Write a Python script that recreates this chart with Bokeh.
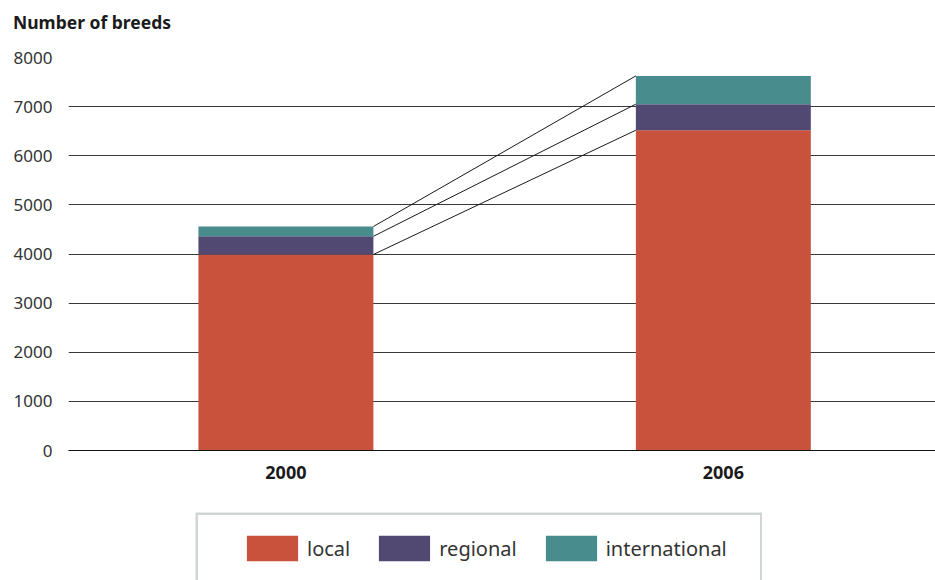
from bokeh.plotting import figure
from bokeh.models import Range1d, FixedTicker, Legend, LegendItem, ColumnDataSource, Spacer, Div
from bokeh.layouts import column, row
from bokeh.embed import file_html
from bokeh.resources import INLINE

title_text = "Number of breeds"
years = ["2000", "2006"]
local = [3990, 6520]
regional = [370, 530]
international = [200, 575]
series = ["local", "regional", "international"]
colors = ["#C9523D", "#524973", "#498C8E"]
y_ticks = [0, 1000, 2000, 3000, 4000, 5000, 6000, 7000, 8000]

FONT = "Noto Sans"
xpos = [i + 0.5 for i in range(len(years))]
bar_w = 0.4

title = Div(text=title_text, width=935, height=40, margin=0,
            styles={"font-family": FONT, "font-size": "17.5px", "font-weight": "bold",
                    "color": "#1a1a1a", "padding-left": "13px", "padding-top": "10px",
                    "line-height": "normal"})

p = figure(width=935, height=460, output_backend="svg", toolbar_location=None,
           x_range=Range1d(0.003, 1.985), y_range=Range1d(0, 8000),
           min_border_left=68, min_border_right=0, min_border_top=17, min_border_bottom=50)
p.outline_line_color = None
p.background_fill_color = "white"
p.title.text = ""
p.title.standoff = 0

src = ColumnDataSource(dict(x=xpos, local=local, regional=regional, international=international))
renderers = p.vbar_stack(series, x="x", width=bar_w, color=colors, source=src, line_color=None)

# connector lines between segment tops
cum = [0, 0]
vals = [local, regional, international]
for v in vals:
    cum = [cum[i] + v[i] for i in range(len(years))]
    p.line([xpos[0] + bar_w / 2, xpos[1] - bar_w / 2], [cum[0], cum[1]], line_color="#1a1a1a", line_width=1)

# axes
p.yaxis.ticker = FixedTicker(ticks=y_ticks)
p.yaxis.axis_line_color = None
p.yaxis.major_tick_line_color = None
p.yaxis.minor_tick_line_color = None
p.yaxis.major_label_text_font = FONT
p.yaxis.major_label_text_font_size = "17px"
p.yaxis.major_label_text_color = "#333333"
p.yaxis.major_label_standoff = 10

p.xaxis.ticker = FixedTicker(ticks=xpos)
p.xaxis.major_label_overrides = {xpos[i]: years[i] for i in range(len(years))}
p.xaxis.axis_line_color = "#111111"
p.xaxis.axis_line_width = 1
p.xaxis.major_tick_line_color = None
p.xaxis.minor_tick_line_color = None
p.xaxis.major_label_text_font = FONT
p.xaxis.major_label_text_font_size = "18px"
p.xaxis.major_label_text_font_style = "bold"
p.xaxis.major_label_text_color = "#1a1a1a"
p.xaxis.major_label_standoff = 9

p.xgrid.grid_line_color = None
p.ygrid.grid_line_color = "#383838"
p.ygrid.grid_line_width = 1

# legend box as its own small figure (open at the bottom, as it runs past the page edge)
lf = figure(width=567, height=68, output_backend="svg", toolbar_location=None,
            x_axis_type=None, y_axis_type=None, x_range=Range1d(0, 1), y_range=Range1d(0, 1),
            min_border=0)
lf.outline_line_color = None
lf.grid.visible = False
lf.line(x=[0, 0, 1, 1], y=[-1, 1, 1, -1], line_color="#D1D5D4", line_width=5)
swatches = [lf.vbar(x=[-10], top=[-5], bottom=[-6], width=0.1, color=colors[i], line_color=None)
            for i in range(len(series))]
items = [LegendItem(label=series[i], renderers=[swatches[i]]) for i in range(len(series))]
legend = Legend(items=items, orientation="horizontal", location=(45, 16),
                glyph_width=64, glyph_height=32, label_height=26, label_standoff=3, spacing=22,
                padding=0, margin=0,
                label_text_font=FONT, label_text_font_size="20px", label_text_color="#333333",
                border_line_color=None, background_fill_alpha=0)
lf.add_layout(legend, "center")

layout = column(title, p, Spacer(height=12), row(Spacer(width=195), lf))
open("out.html", "w").write(file_html(layout, INLINE))
